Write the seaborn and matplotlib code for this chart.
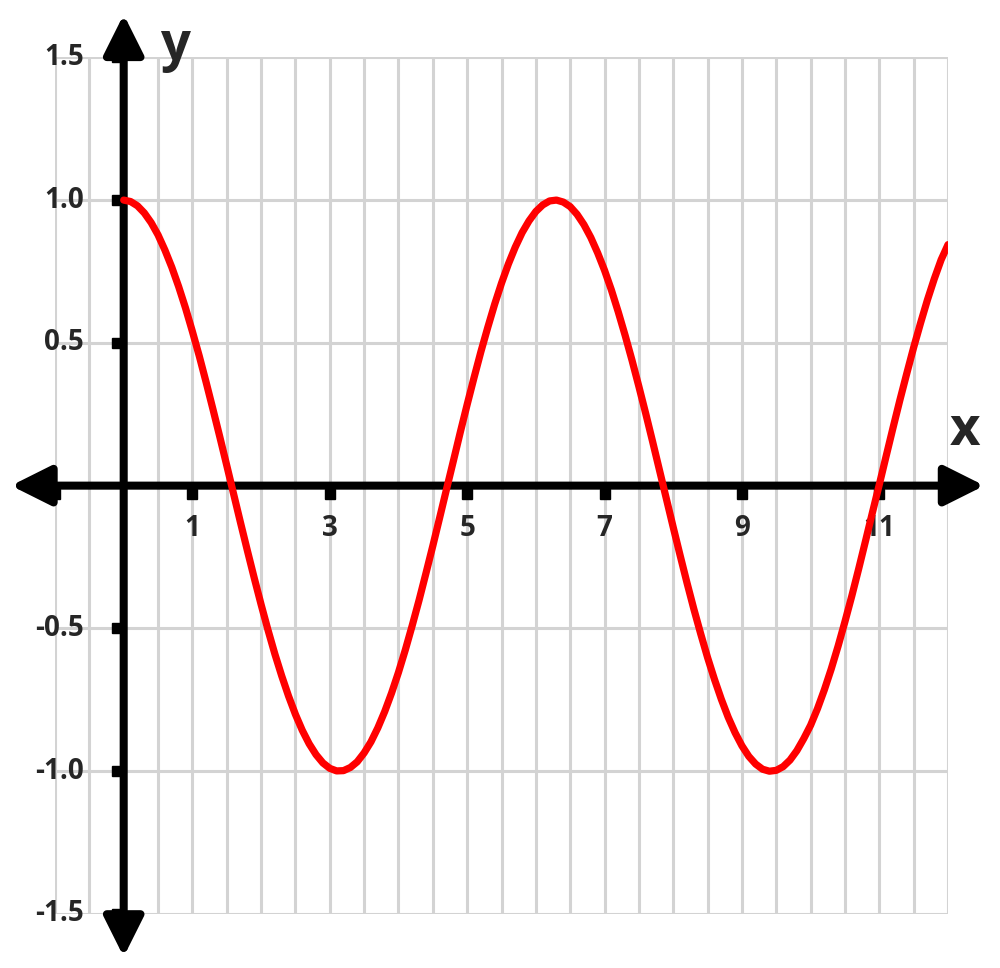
import numpy as np
import pandas as pd
import matplotlib.pyplot as plt
import seaborn as sns

sns.set_style("whitegrid")
plt.rcParams['font.family'] = ['Open Sans', 'DejaVu Sans']

x_vals = list(np.round(np.arange(0, 12.05, 0.1), 1))
y_vals = [1.000, 0.995, 0.980, 0.955, 0.921, 0.878, 0.825, 0.765, 0.697, 0.622,
          0.540, 0.454, 0.362, 0.267, 0.170, 0.071, -0.029, -0.129, -0.227, -0.323,
          -0.416, -0.505, -0.589, -0.666, -0.737, -0.801, -0.857, -0.904, -0.942, -0.971,
          -0.990, -0.999, -0.998, -0.987, -0.967, -0.936, -0.897, -0.848, -0.791, -0.726,
          -0.654, -0.575, -0.490, -0.401, -0.307, -0.211, -0.112, -0.012, 0.087, 0.187,
          0.284, 0.378, 0.469, 0.554, 0.635, 0.709, 0.776, 0.835, 0.886, 0.927,
          0.960, 0.983, 0.997, 1.000, 0.993, 0.977, 0.950, 0.914, 0.869, 0.815,
          0.754, 0.685, 0.608, 0.526, 0.439, 0.347, 0.252, 0.154, 0.054, -0.046,
          -0.146, -0.244, -0.340, -0.432, -0.519, -0.602, -0.678, -0.748, -0.811, -0.865,
          -0.911, -0.948, -0.975, -0.993, -1.000, -0.997, -0.984, -0.961, -0.928, -0.886,
          -0.839, -0.781, -0.715, -0.642, -0.562, -0.476, -0.386, -0.291, -0.193, -0.094,
          0.004, 0.104, 0.203, 0.300, 0.393, 0.484, 0.569, 0.650, 0.724, 0.791,
          0.844]

x_tick_labels = [1, 3, 5, 7, 9, 11]
x_tick_marks = [-1, 1, 3, 5, 7, 9, 11]
y_tick_labels = [1.5, 1.0, 0.5, -0.5, -1.0, -1.5]

df = pd.DataFrame({'x': x_vals, 'y': y_vals})

fig = plt.figure(figsize=(10, 9.68), dpi=100)
ax = fig.add_axes([0.055, 0.0558, 0.893, 0.885])

# grid
ax.set_xlim(-1, 12)
ax.set_ylim(-1.5, 1.5)
ax.set_xticks(np.arange(-1, 12.01, 0.5))
ax.set_yticks(np.arange(-1.5, 1.51, 0.5))
ax.set_xticklabels([])
ax.set_yticklabels([])
ax.tick_params(length=0)
ax.grid(True, color='#d3d3d3', lw=2.2)
for s in ax.spines.values():
    s.set_visible(False)

# axes with arrows
arrow = dict(arrowstyle='-|>,head_length=1.1,head_width=0.55', lw=5.8, color='black',
             shrinkA=0, shrinkB=0, mutation_scale=22)
ax.annotate('', xy=(12.53, 0), xytext=(0, 0), arrowprops=arrow, annotation_clip=False, zorder=3)
ax.annotate('', xy=(-1.64, 0), xytext=(0, 0), arrowprops=arrow, annotation_clip=False, zorder=3)
ax.annotate('', xy=(0, 1.65), xytext=(0, 0), arrowprops=arrow, annotation_clip=False, zorder=3)
ax.annotate('', xy=(0, -1.65), xytext=(0, 0), arrowprops=arrow, annotation_clip=False, zorder=3)

# small square tick marks
ax.plot(x_tick_marks, [-0.03] * len(x_tick_marks), 's', color='black', ms=7, zorder=3, clip_on=False)
ax.plot([-0.1] * len(y_tick_labels), y_tick_labels, 's', color='black', ms=7, zorder=3, clip_on=False)

# curve
sns.lineplot(data=df, x='x', y='y', color='red', lw=5.2, ax=ax, zorder=4)
ax.set_xlabel('')
ax.set_ylabel('')

for v in x_tick_labels:
    ax.text(v, -0.15, str(v), ha='center', va='center', fontsize=20, fontweight='bold')
for v in y_tick_labels:
    ax.text(-0.58, v, f'{v:.1f}', ha='right', va='center', fontsize=20, fontweight='bold',
            clip_on=False)

ax.text(0.75, 1.54, 'y', ha='center', va='center', fontsize=38, fontweight='bold', clip_on=False)
ax.text(12.25, 0.19, 'x', ha='center', va='center', fontsize=38, fontweight='bold', clip_on=False)

fig.savefig('out.png', dpi=100)
